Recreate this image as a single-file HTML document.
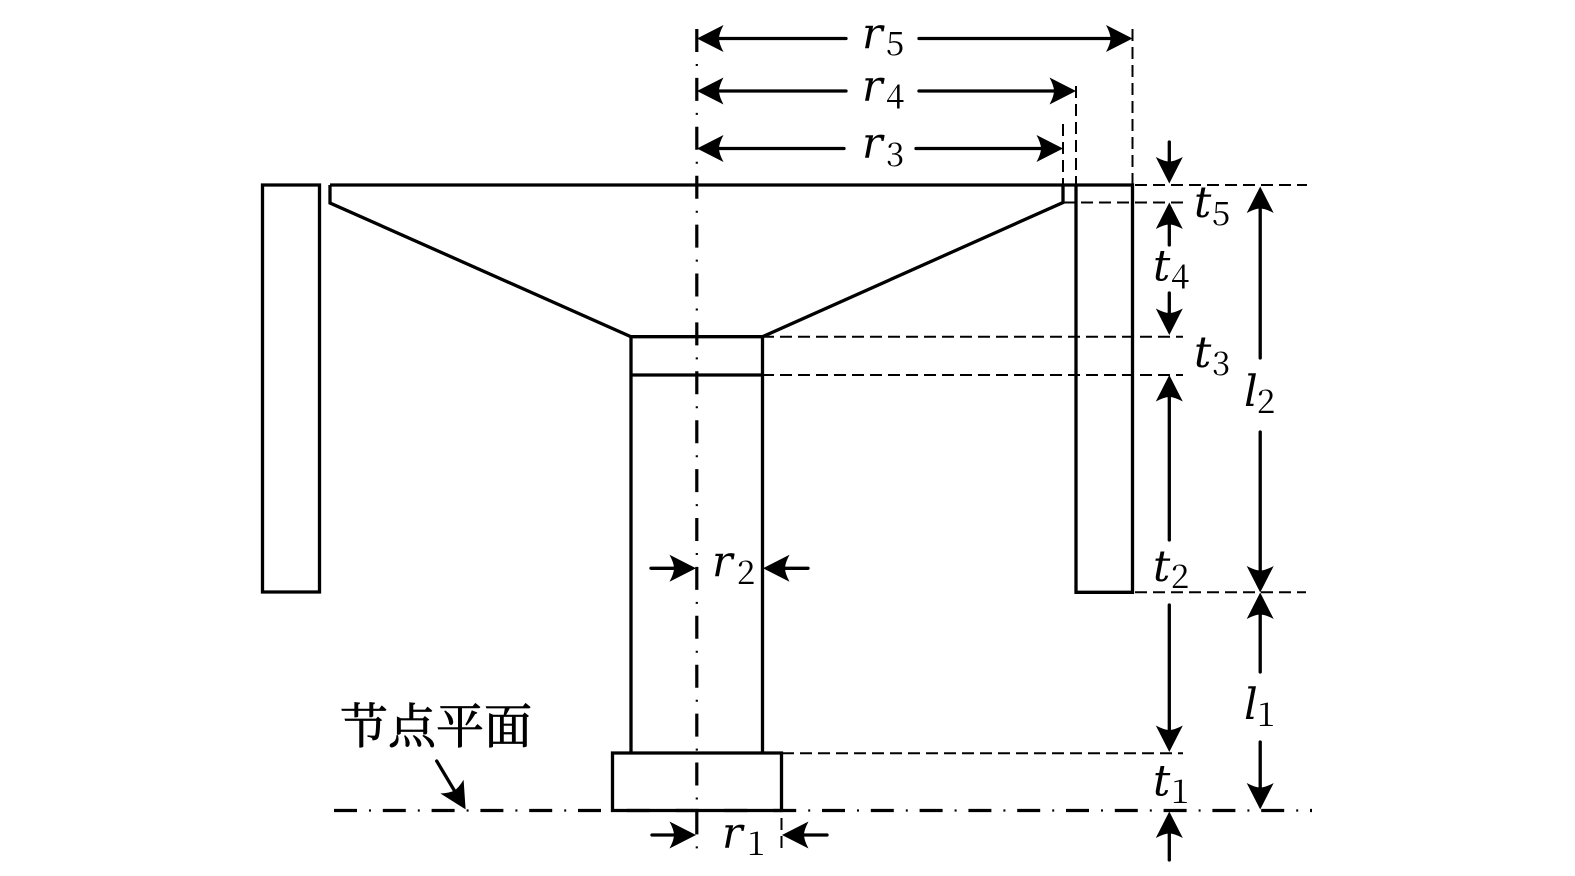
<!DOCTYPE html>
<html>
<head>
<meta charset="utf-8">
<title>Diagram</title>
<style>
html,body{margin:0;padding:0;background:#fff;width:1575px;height:876px;overflow:hidden}
svg{display:block}
.s{fill:none;stroke:#000;stroke-width:3.3;stroke-linejoin:miter}
.d{fill:none;stroke:#000;stroke-width:2;stroke-dasharray:12 6}
.c{fill:none;stroke:#000;stroke-width:3.2;stroke-dasharray:23 25.9}
.o{fill:none;stroke:#000;stroke-width:2.2;stroke-dasharray:2 46.9}
.a{fill:none;stroke:#000;stroke-width:3.3;stroke-linecap:round;marker-end:url(#h)}
.v{font-family:'DejaVu Serif',serif;font-size:43px;font-style:italic;fill:#000}
.n{font-family:'Noto Serif CJK SC',serif;font-size:33px;fill:#000}
.z{font-family:'Noto Serif CJK SC',serif;font-size:48px;fill:#000;stroke:#000;stroke-width:.8}
</style>
</head>
<body>
<svg width="1575" height="876" viewBox="0 0 1575 876" xmlns="http://www.w3.org/2000/svg">
<defs>
<marker id="h" markerUnits="userSpaceOnUse" markerWidth="60" markerHeight="60" viewBox="-30 -30 60 60" refX="0" refY="0" orient="auto" overflow="visible">
<path d="M8 0 L-18.5 -13.5 Q-14 -5 -14 0 Q-14 5 -18.5 13.5Z" fill="#000"/>
</marker>
</defs>

<!-- thin dashed extension lines -->
<path class="d" d="M1132.5 29V185M1076 86V185M1063 124V185"/>
<path class="d" d="M1135 185H1307M1063 202.5H1183M762 336.7H1183M762 375H1183M1135 592.3H1306M782 753.3H1183"/>
<path class="d" d="M781.5 818V850"/>

<!-- structure -->
<path class="s" d="M262.5 185H319.5V592H262.5Z"/>
<path class="s" d="M330 185V203L631 336.7H762.5L1063 202.5V185"/>
<path class="s" d="M330 185H1132.5V592.3H1076V185"/>
<path class="s" d="M631 336.7V753M762.5 336.7V753M631 375H762.5"/>
<path class="s" d="M612.5 753H781.5V810.5H612.5Z"/>

<!-- centre lines -->
<path class="c" d="M696.8 29V836"/>
<path class="o" d="M696.8 64V852"/>
<path class="c" style="stroke-dasharray:23 25.8" d="M334 810.5H1312"/>
<path class="o" style="stroke-dasharray:2 46.8" d="M369 810.5H1312"/>

<!-- r arrows -->
<path class="a" d="M846 38.5H705"/>
<path class="a" d="M919 38.5H1124.5"/>
<path class="a" d="M846 91H705"/>
<path class="a" d="M919 91H1068"/>
<path class="a" d="M844 148.5H705"/>
<path class="a" d="M916 148.5H1055"/>
<path class="a" d="M651 568.3H688"/>
<path class="a" d="M808 568.3H771"/>
<path class="a" d="M652 835H688"/>
<path class="a" d="M827 835H790"/>

<!-- t arrows -->
<path class="a" d="M1169.3 142V175.5"/>
<path class="a" d="M1169.3 245V210.5"/>
<path class="a" d="M1169.3 293V327"/>
<path class="a" d="M1169.3 540V383"/>
<path class="a" d="M1169.3 605V744"/>
<path class="a" d="M1169.3 860V819.5"/>

<!-- l arrows -->
<path class="a" d="M1260.2 358V194.5"/>
<path class="a" d="M1260.2 432V584.5"/>
<path class="a" d="M1260.2 672V600.5"/>
<path class="a" d="M1260.2 742V801.5"/>

<!-- node plane arrow -->
<path class="a" d="M436.7 761L461.5 802.5"/>

<!-- labels -->
<text class="v" x="862" y="48">r</text><text class="n" x="886" y="55">5</text>
<text class="v" x="862" y="100.7">r</text><text class="n" x="886" y="108">4</text>
<text class="v" x="862" y="157.7">r</text><text class="n" x="886" y="166">3</text>
<text class="v" x="712" y="576">r</text><text class="n" x="737" y="584">2</text>
<text class="v" x="722" y="847.7">r</text><text class="n" x="747" y="855">1</text>

<text class="v" x="1194" y="217">t</text><text class="n" x="1212" y="225">5</text>
<text class="v" x="1153" y="280.7">t</text><text class="n" x="1171" y="288">4</text>
<text class="v" x="1194" y="367">t</text><text class="n" x="1212" y="375">3</text>
<text class="v" x="1153" y="581">t</text><text class="n" x="1171" y="588">2</text>
<text class="v" x="1153" y="795.7">t</text><text class="n" x="1171" y="803">1</text>

<text class="v" x="1244" y="406">l</text><text class="n" x="1257" y="413">2</text>
<text class="v" x="1244" y="719">l</text><text class="n" x="1257" y="726">1</text>

<text class="z" x="340" y="743">节点平面</text>
</svg>
</body>
</html>
